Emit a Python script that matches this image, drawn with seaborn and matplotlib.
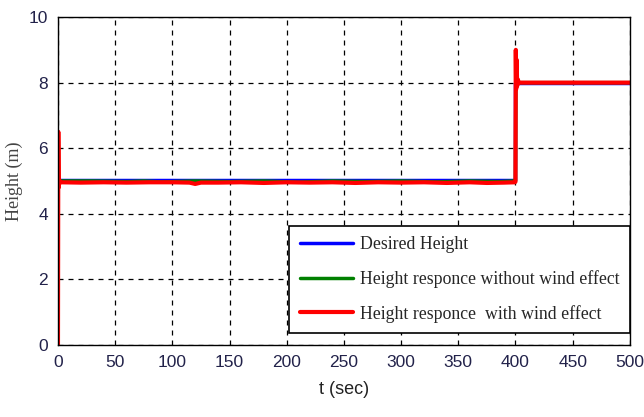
import pandas as pd
import seaborn as sns
import matplotlib.pyplot as plt

# desired height (step at t = 400 s)
desired_t = [0, 400, 400, 500]
desired_h = [5.02, 5.02, 8.0, 8.0]

# height response without wind effect
nowind_t = [0, 0.3, 0.6, 1.0, 2, 30, 60, 75, 90, 120, 150, 180, 210, 240, 270, 300,
            330, 360, 385, 399.5, 400, 400.4, 400.8, 401.5, 403, 420, 450, 500]
nowind_h = [0.0, 6.2, 4.9, 5.02, 5.0, 5.0, 4.98, 5.0, 4.97, 5.0, 4.98, 5.0, 4.96, 5.0,
            4.98, 5.0, 4.97, 5.0, 4.98, 5.0, 5.0, 8.6, 7.9, 8.05, 8.0, 8.0, 8.0, 8.0]

# height response with wind effect
wind_t = [0, 0.3, 0.6, 1.0, 1.5, 3, 20, 40, 60, 80, 100, 115, 120, 125, 140, 160, 180,
          200, 220, 240, 260, 280, 300, 320, 340, 360, 375, 390, 399.5, 400, 400.3,
          400.6, 401.0, 401.5, 402, 403, 420, 450, 480, 500]
wind_h = [0.0, 6.5, 4.8, 5.05, 4.94, 4.96, 4.95, 4.96, 4.95, 4.96, 4.96, 4.95, 4.91,
          4.95, 4.95, 4.96, 4.94, 4.96, 4.95, 4.96, 4.94, 4.96, 4.95, 4.96, 4.94, 4.96,
          4.94, 4.95, 4.96, 4.98, 9.0, 7.8, 8.7, 7.9, 8.1, 8.0, 8.0, 8.0, 8.0, 8.0]

series = [
    ("Desired Height", desired_t, desired_h, "#0000ff", 2.5),
    ("Height responce without wind effect", nowind_t, nowind_h, "#008000", 2.5),
    ("Height responce  with wind effect", wind_t, wind_h, "#ff0000", 3.0),
]

sns.set_style("white")
fig = plt.figure(figsize=(6.44, 4.17), dpi=100)
ax = fig.add_axes([0.09, 0.173, 0.888, 0.786])

for name, t, h, color, lw in series:
    df = pd.DataFrame({"t": t, "h": h})
    sns.lineplot(data=df, x="t", y="h", ax=ax, color=color, linewidth=lw,
                 label=name, estimator=None, sort=False)

ax.set_xlim(0, 500)
ax.set_ylim(0, 10)
ax.set_xticks(range(0, 501, 50))
ax.set_yticks(range(0, 11, 2))
ax.grid(True, color="black", linestyle=(0, (4, 4)), linewidth=0.9)
ax.set_axisbelow(True)
for s in ax.spines.values():
    s.set_color("black")
    s.set_linewidth(1.0)
ax.tick_params(axis="both", direction="in", length=5, color="black",
               labelsize=12.5, labelcolor="#22224a", pad=7)
for lab in ax.get_xticklabels() + ax.get_yticklabels():
    lab.set_family("Liberation Sans")

ax.set_xlabel("t (sec)", fontsize=13, family="Liberation Sans", color="#222222",
              labelpad=8)
ax.set_ylabel("Height (m)", fontsize=13, family="Liberation Serif", color="#444444")
ax.yaxis.set_label_coords(-0.062, 0.5)

leg = ax.legend(loc="lower right", bbox_to_anchor=(1.0, 0.035), frameon=True,
                fancybox=False, framealpha=1, edgecolor="black",
                prop={"family": "Liberation Serif", "size": 12.8},
                handlelength=3.0, labelspacing=0.95, borderpad=0.6,
                borderaxespad=0.0, handletextpad=0.35)
leg.get_frame().set_linewidth(1.2)

fig.savefig("out.png", dpi=100)
